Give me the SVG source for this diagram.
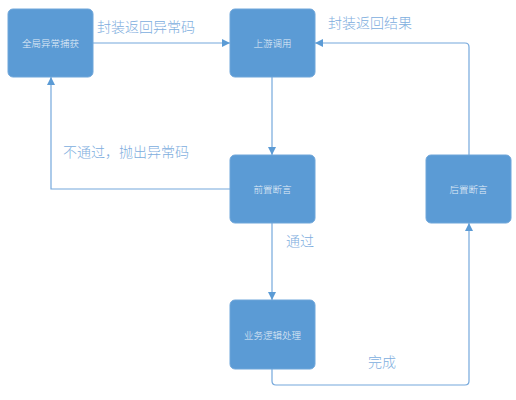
<svg xmlns="http://www.w3.org/2000/svg" width="516" height="400" viewBox="0 0 516 400">
<defs>
<style>
.node{fill:#5b9bd5;stroke:#6fa6da;stroke-width:1}
.nt{fill:#e4eef8;font-family:"Noto Sans CJK SC","Liberation Sans",sans-serif;font-size:9.5px;font-weight:300;text-anchor:middle;dominant-baseline:central}
.edge{fill:none;stroke:#75a8dc;stroke-width:1.2}
.lbl{fill:#80aede;font-family:"Noto Sans CJK SC","Liberation Sans",sans-serif;font-size:14px;font-weight:300}
</style>
<marker id="arr" viewBox="0 0 10 10" refX="10" refY="5" markerWidth="8" markerHeight="8" markerUnits="userSpaceOnUse" orient="auto">
<path d="M0,0 L10,5 L0,10 z" fill="#5b9bd5"/>
</marker>
</defs>
<rect width="516" height="400" fill="#ffffff"/>
<g id="connectors">
<path class="edge" d="M93,43 H230" marker-end="url(#arr)"/>
<path class="edge" d="M272,77 V155" marker-end="url(#arr)"/>
<path class="edge" d="M230,189 H51 V77" marker-end="url(#arr)"/>
<path class="edge" d="M272,223 V300" marker-end="url(#arr)"/>
<path class="edge" d="M272,369 V381 Q272,385 276,385 H465 Q469,385 469,381 V223" marker-end="url(#arr)"/>
<path class="edge" d="M469,155 V47 Q469,43 465,43 H315" marker-end="url(#arr)"/>
</g>
<g id="labels">
<text class="lbl" x="97" y="32">封装返回异常码</text>
<text class="lbl" x="328" y="28">封装返回结果</text>
<text class="lbl" x="63" y="157">不通过，抛出异常码</text>
<text class="lbl" x="286" y="246">通过</text>
<text class="lbl" x="368" y="367">完成</text>
</g>
<g id="n-global">
<rect class="node" x="8" y="9" width="85" height="68" rx="5"/>
<text class="nt" x="50.5" y="43">全局异常捕获</text>
</g>
<g id="n-upstream">
<rect class="node" x="230" y="9" width="85" height="68" rx="5"/>
<text class="nt" x="272.5" y="43">上游调用</text>
</g>
<g id="n-pre">
<rect class="node" x="230" y="155" width="85" height="68" rx="5"/>
<text class="nt" x="272.5" y="189">前置断言</text>
</g>
<g id="n-post">
<rect class="node" x="426" y="155" width="85" height="68" rx="5"/>
<text class="nt" x="468.5" y="189">后置断言</text>
</g>
<g id="n-biz">
<rect class="node" x="230" y="300" width="85" height="69" rx="5"/>
<text class="nt" x="272.5" y="334.5">业务逻辑处理</text>
</g>
</svg>
